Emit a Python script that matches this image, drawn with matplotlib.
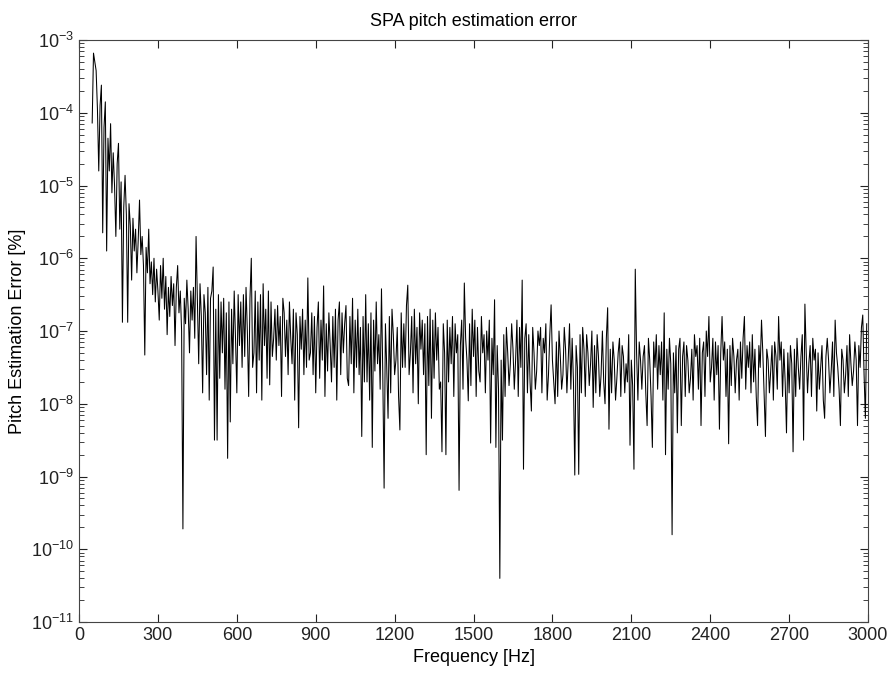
import numpy as np
import matplotlib
matplotlib.use("Agg")
import matplotlib.pyplot as plt
from matplotlib.ticker import LogLocator, NullFormatter, FixedLocator

plt.rcParams['font.family'] = ['Liberation Sans', 'DejaVu Sans']
plt.rcParams['mathtext.fontset'] = 'custom'
plt.rcParams['mathtext.rm'] = 'Liberation Sans'

# frequency grid [Hz], one value every 5 Hz from 50 to 2995
f_start, f_stop, f_step = 50, 3000, 5

# log10 of the pitch estimation error (20 values per 100 Hz)
err_exp = [
    -4.14, -3.18, -3.30, -3.42, -3.95, -4.80, -3.90, -3.62, -5.65, -4.20, -3.85, -5.90, -4.35, -4.80, -4.15, -5.10, -4.55, -5.00, -5.70, -4.70,  # 50
    -4.42, -5.60, -4.95, -6.88, -5.30, -4.86, -5.40, -6.88, -5.25, -5.55, -6.30, -5.45, -5.90, -5.60, -6.20, -5.75, -5.20, -5.95, -5.70, -6.10,  # 150
    -7.33, -5.85, -6.20, -5.60, -6.35, -6.05, -6.50, -6.00, -6.60, -6.15, -6.45, -6.85, -6.10, -6.55, -6.00, -6.70, -6.25, -7.05, -6.40, -6.80,  # 250
    -6.25, -6.65, -6.35, -7.20, -6.40, -6.10, -6.75, -6.45, -7.00, -9.72, -6.55, -6.90, -6.30, -6.70, -7.30, -6.45, -6.85, -6.40, -7.10, -5.70,  # 350
    -6.60, -7.45, -6.35, -6.80, -7.85, -6.50, -6.75, -7.60, -6.40, -7.95, -6.55, -6.45, -6.12, -8.50, -6.70, -8.50, -6.50, -7.65, -6.60, -7.30,  # 450
    -6.55, -7.80, -6.75, -8.75, -6.60, -8.25, -6.70, -7.45, -6.45, -7.10, -7.85, -6.50, -7.20, -6.60, -7.50, -6.50, -7.35, -6.40, -7.00, -7.90,  # 550
    -6.55, -6.00, -7.50, -7.30, -6.45, -7.85, -6.60, -7.40, -6.50, -7.95, -6.35, -7.20, -6.70, -7.65, -6.45, -7.74, -6.60, -7.35, -7.10, -6.70,  # 650
    -7.40, -6.65, -7.20, -6.80, -7.90, -6.55, -6.75, -7.35, -6.85, -7.60, -6.60, -7.10, -7.45, -6.70, -7.95, -6.75, -7.05, -8.33, -6.80, -7.25,  # 750
    -6.70, -7.60, -6.85, -7.50, -6.27, -7.40, -7.30, -6.75, -7.60, -6.80, -7.85, -6.95, -6.60, -7.65, -6.85, -7.40, -6.38, -7.90, -6.90, -7.55,  # 850
    -6.75, -7.20, -7.70, -6.80, -7.50, -6.70, -7.95, -6.85, -6.60, -7.60, -6.75, -7.30, -6.90, -6.65, -7.65, -7.75, -6.80, -7.45, -6.55, -7.85,  # 950
    -6.85, -7.50, -6.70, -7.60, -6.95, -8.45, -6.80, -7.70, -6.50, -7.70, -6.90, -7.95, -6.75, -8.60, -6.85, -7.55, -6.60, -7.45, -7.05, -7.80,  # 1050
    -6.42, -7.60, -9.16, -6.90, -7.50, -8.20, -6.80, -7.85, -6.70, -7.05, -7.60, -7.40, -6.95, -7.90, -8.36, -6.75, -7.50, -6.90, -7.50, -6.65,  # 1150
    -6.37, -7.60, -7.30, -6.80, -7.85, -6.70, -7.45, -6.95, -8.00, -6.75, -7.25, -6.85, -7.60, -6.90, -8.70, -6.80, -7.75, -6.70, -8.20, -6.85,  # 1250
    -7.65, -6.75, -7.40, -6.95, -7.80, -7.70, -8.66, -6.90, -7.30, -8.70, -6.85, -7.70, -6.95, -7.45, -6.80, -7.90, -6.90, -7.30, -7.05, -9.19,  # 1350
    -7.20, -6.85, -7.80, -6.34, -7.10, -7.40, -7.96, -6.90, -7.75, -6.70, -7.35, -6.85, -7.90, -6.95, -7.55, -7.70, -6.80, -7.30, -7.05, -7.85,  # 1450
    -7.00, -7.40, -6.85, -8.54, -7.10, -7.60, -6.57, -8.60, -7.20, -7.80, -10.40, -7.40, -8.50, -7.05, -7.90, -6.95, -7.30, -7.75, -7.45, -6.90,  # 1550
    -7.25, -7.80, -7.40, -6.85, -7.90, -6.95, -7.50, -6.30, -8.90, -7.10, -6.90, -7.85, -7.05, -7.70, -8.10, -6.95, -7.30, -7.80, -7.55, -7.00,  # 1650
    -7.20, -6.95, -7.85, -7.10, -7.30, -6.90, -7.95, -7.60, -7.05, -6.64, -7.40, -7.70, -8.00, -7.15, -7.90, -7.00, -7.35, -7.80, -7.60, -6.95,  # 1750
    -7.25, -7.85, -7.40, -6.90, -7.80, -7.10, -7.70, -8.98, -7.20, -7.50, -8.97, -7.05, -7.85, -6.95, -7.25, -7.90, -7.05, -7.30, -7.75, -7.45,  # 1850
    -7.00, -8.05, -7.20, -7.85, -7.05, -7.35, -7.90, -7.60, -7.00, -7.70, -8.00, -7.10, -6.68, -8.35, -7.25, -7.85, -7.15, -7.40, -7.95, -7.65,  # 1950
    -7.30, -7.10, -7.90, -7.20, -7.35, -7.85, -7.45, -7.70, -7.05, -8.57, -7.40, -7.75, -8.90, -6.15, -7.30, -7.95, -7.15, -7.40, -7.80, -7.35,  # 2050
    -7.20, -7.85, -8.30, -7.10, -7.40, -7.90, -8.60, -7.15, -7.50, -7.05, -7.80, -7.20, -7.60, -7.15, -7.95, -6.75, -8.70, -7.25, -7.80, -7.10,  # 2150
    -7.45, -9.80, -7.30, -7.85, -7.20, -8.40, -7.25, -7.10, -8.30, -7.35, -7.15, -7.90, -7.20, -7.40, -7.85, -7.65, -7.25, -7.95, -7.05, -7.35,  # 2250
    -7.20, -7.80, -7.10, -8.30, -7.30, -7.15, -7.90, -7.00, -7.35, -6.80, -7.70, -7.50, -7.10, -7.95, -7.15, -7.60, -7.20, -8.35, -7.30, -6.80,  # 2350
    -7.40, -7.15, -7.90, -7.25, -8.55, -7.20, -7.75, -7.10, -7.35, -7.85, -7.40, -7.25, -7.95, -7.15, -7.65, -7.10, -6.80, -7.80, -7.20, -7.50,  # 2450
    -7.15, -7.85, -7.05, -7.70, -7.25, -7.90, -8.30, -7.20, -7.50, -6.85, -7.30, -7.90, -8.45, -7.25, -7.40, -7.85, -7.55, -7.20, -7.95, -7.15,  # 2550
    -7.35, -7.80, -6.80, -7.40, -7.15, -7.90, -7.25, -7.70, -8.40, -7.30, -7.85, -7.20, -7.45, -8.66, -7.25, -7.90, -7.10, -7.50, -7.80, -7.35,  # 2650
    -7.05, -8.50, -6.63, -7.30, -7.85, -7.45, -7.20, -7.90, -7.10, -7.40, -7.25, -8.10, -7.30, -7.80, -7.50, -7.20, -7.95, -8.20, -7.35, -7.10,  # 2750
    -7.40, -7.85, -7.55, -7.15, -7.90, -6.85, -7.30, -7.50, -7.80, -8.30, -7.25, -7.40, -7.85, -7.60, -7.20, -7.90, -7.05, -7.45, -7.75, -7.55,  # 2850
    -7.15, -7.40, -8.30, -7.20, -7.50, -6.95, -6.78, -7.60, -8.20, -6.90,  # 2950
]

x_ticks = [0, 300, 600, 900, 1200, 1500, 1800, 2100, 2400, 2700, 3000]

freq = np.arange(f_start, f_stop, f_step)
err = 10.0 ** np.array(err_exp)

fig = plt.figure(figsize=(8.89, 6.75), dpi=100)
ax = fig.add_axes([0.0889, 0.0785, 0.8875, 0.8622])

ax.semilogy(freq, err, color='k', lw=0.75)

ax.set_xlim(0, 3000)
ax.set_ylim(1e-11, 1e-3)
ax.xaxis.set_major_locator(FixedLocator(x_ticks))
ax.yaxis.set_major_locator(LogLocator(base=10, numticks=20))
ax.yaxis.set_minor_locator(LogLocator(base=10, subs=np.arange(2, 10), numticks=100))
ax.yaxis.set_minor_formatter(NullFormatter())

ax.tick_params(which='both', direction='in', top=True, right=True, labelsize=13, colors='#222222')
ax.tick_params(which='major', length=6)
ax.tick_params(which='minor', length=3.5)
for s in ax.spines.values():
    s.set_color('#444444')

ax.set_title("SPA pitch estimation error", fontsize=13, pad=10)
ax.set_xlabel("Frequency [Hz]", fontsize=13, labelpad=4)
ax.set_ylabel("Pitch Estimation Error [%]", fontsize=13, labelpad=4)

fig.savefig("out.png", dpi=100)
